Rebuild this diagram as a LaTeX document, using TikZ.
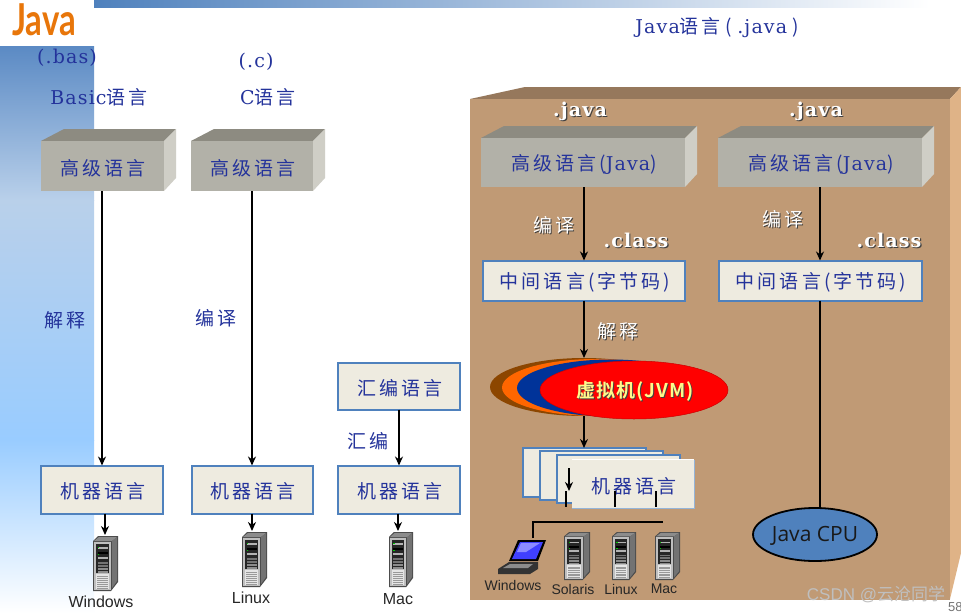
\documentclass[tikz,border=0pt]{standalone}
\usepackage{fontspec}
\usetikzlibrary{arrows.meta,shapes.geometric}
\setmainfont{Liberation Serif}
\newfontfamily\cjk[LetterSpace=16]{Noto Sans CJK SC}
\newfontfamily\cjkplain{Noto Sans CJK SC}
\newfontfamily\cjkb[LetterSpace=6]{Noto Sans CJK SC Bold}
\newfontfamily\ltn[LetterSpace=6]{DejaVu Serif}
\newfontfamily\ltnb[LetterSpace=6]{DejaVu Serif Bold}
\newfontfamily\sns{Liberation Sans}
\newfontfamily\lato{Lato}
\newfontfamily\osans{Open Sans}
\definecolor{txtblue}{HTML}{24339B}
\definecolor{linkblue}{HTML}{4F81BD}
\definecolor{cardfill}{HTML}{EEEBE0}
\definecolor{grfront}{HTML}{B2B1A8}
\definecolor{grtop}{HTML}{8D8B81}
\definecolor{grside}{HTML}{CFCEC6}
\definecolor{bxfront}{HTML}{C09A75}
\definecolor{bxtop}{HTML}{96785C}
\definecolor{bxside}{HTML}{DFB387}
\definecolor{sb1}{HTML}{5B8AC4}
\definecolor{sb2}{HTML}{B9D0EA}
\definecolor{sb3}{HTML}{99CCFF}
\definecolor{jorange}{HTML}{E8760A}
\newcommand\shadowed[2]{\rlap{\kern1.2pt\raisebox{-1.2pt}{\color{black!75}#2}}{\color{#1}#2}}
\newcommand\dn[1]{\raisebox{-2pt}[\height][\depth]{\kern2pt #1}}
\newcommand\serverIcon[4]{%
\begin{scope}[shift={(#1,#2)},xscale=#3/25,yscale=#4/55]
\fill[black!70] (0,5)--(5,0)--(25,0)--(25,46)--(18,55)--(0,55)--cycle;
\fill[black!45] (1,5)--(6,1)--(24,1)--(19,5)--cycle;
\fill[black!55] (19,5)--(24,1)--(24,45)--(19,52)--cycle;
\fill[black!25] (1,6) rectangle (18,54);
\fill[black!85] (3,8) rectangle (16,37);
\foreach \yy/\cc in {11/black!30,16/black,21/black!30,26/black!55,29/black!55,32/black!45,35/black!45}
  \fill[\cc] (4.5,\yy) rectangle (14.5,\yy+1.8);
\fill[green!80!black] (4.5,11) rectangle (6,12);
\fill[green!80!black] (4.5,18) rectangle (6,19);
\fill[black!10] (3,38) rectangle (16,53);
\foreach \yy in {40,42,...,52}
  \draw[black!40,line width=.5pt] (4,\yy) -- (15,\yy);
\end{scope}}
\tikzset{
  x=1pt,y=-1pt,
  lbl/.style={inner sep=0pt,outer sep=0pt,font=\fontsize{19}{19}\selectfont\cjk,text=txtblue},
  gbox/.style={inner sep=0pt,outer sep=0pt,fill=grfront,font=\fontsize{19}{19}\selectfont\cjk,text=txtblue,anchor=center},
  cardbox/.style={inner sep=0pt,outer sep=0pt,fill=cardfill,draw=linkblue,line width=2pt,font=\fontsize{19}{19}\selectfont\cjk,text=txtblue},
  conn/.style={line width=1.8pt,black,-{Stealth[length=9pt,width=8pt]}},
  plainconn/.style={line width=1.8pt,black},
  oslbl/.style={inner sep=0pt,outer sep=0pt,font=\fontsize{16}{16}\selectfont\sns,text=black!85},
  oslblb/.style={inner sep=0pt,outer sep=0pt,font=\fontsize{14}{14}\selectfont\sns,text=black!85},
  wlbl/.style={inner sep=0pt,outer sep=0pt,font=\fontsize{19}{19}\selectfont\ltnb},
}
\begin{document}
\begin{tikzpicture}
\useasboundingbox (0,0) rectangle (961,613);
\fill[white] (0,0) rectangle (961,613);
% sidebar
\shade[top color=sb1,bottom color=sb2] (0,46) rectangle (94,200);
\shade[top color=sb2,bottom color=sb3] (0,200) rectangle (94,440);
\shade[top color=sb3,bottom color=white] (0,440) rectangle (94,613);
\shade[left color=linkblue,right color=white] (94,0) rectangle (930,7);
\node[inner sep=0pt,outer sep=0pt,text=jorange,xscale=.75,font=\fontsize{44}{44}\selectfont\bfseries\lato] (logo) at (44,20) {Java};
% big box
\fill[bxtop] (470,99)--(525,87)--(961,87)--(950,99)--cycle;
\fill[bxside] (950,99)--(961,87)--(961,553)--(950,599)--cycle;
\fill[bxfront] (470,99) rectangle (950,600);
% titles
\node[lbl] (t1) at (717,28) {\ltn Java\cjk 语言\kern5pt(\kern5pt\ltn .java\cjk\kern5pt )};
\node[lbl] (t2) at (67,58) {\ltn(.bas)};
\node[lbl] (t3) at (99,97) {\ltn Basic\cjk 语言};
\node[lbl] (t4) at (256,62) {\ltn(.c)};
\node[lbl] (t5) at (268,97) {\ltn C\cjk 语言};
% 3D boxes
\newcommand\topside[5]{%
\fill[grtop] (#1,#3)--(#1+23,#3-12)--(#2+12,#3-12)--(#2,#3)--cycle;
\fill[grside] (#2,#3)--(#2+12,#3-12)--(#2+12,#4-13)--(#2,#4)--cycle;}
\topside{41}{164}{141}{191}{}
\topside{191}{313}{141}{191}{}
\topside{481}{685}{138}{187}{}
\topside{718}{922}{138}{187}{}
\node[gbox,minimum width=123pt,minimum height=50pt] (hl1) at (102,166) {\dn{高级语言}};
\node[gbox,minimum width=122pt,minimum height=50pt] (hl2) at (252,166) {\dn{高级语言}};
\node[gbox,minimum width=204pt,minimum height=49pt] (hl3) at (583,162.5) {\dn{高级语言(\ltn Java\cjk )}};
\node[gbox,minimum width=204pt,minimum height=49pt] (hl4) at (820,162.5) {\dn{高级语言(\ltn Java\cjk )}};
% machine boxes
\node[cardbox,minimum width=122pt,minimum height=48pt] (m1) at (102,489.5) {\dn{机器语言}};
\node[cardbox,minimum width=121pt,minimum height=48pt] (m2) at (252,489.5) {\dn{机器语言}};
\node[cardbox,minimum width=122pt,minimum height=48pt] (m3) at (399,489.5) {\dn{机器语言}};
\node[cardbox,minimum width=122pt,minimum height=47pt] (asm) at (399,386) {\dn{汇编语言}};
\node[cardbox,minimum width=202pt,minimum height=40pt] (mid1) at (584,280.5) {\dn{中间语言(字节码)}};
\node[cardbox,minimum width=203pt,minimum height=40pt] (mid2) at (820,280.5) {\dn{中间语言(字节码)}};
% servers
\serverIcon{93}{536}{25}{55}
\serverIcon{242}{532}{25}{55}
\serverIcon{389}{532}{24}{55}
\serverIcon{564}{532}{26}{48}
\serverIcon{612}{532}{24}{48}
\serverIcon{655}{532}{25}{48}
\coordinate (s1) at (105,535);
\coordinate (s2) at (252,531);
\coordinate (s3) at (398,531);
\draw[conn] (hl1.south) -- (m1.north);
\draw[conn] (hl2.south) -- (m2.north);
\draw[conn] (asm.south) -- (m3.north);
\draw[conn] (m1.south -| s1) -- (s1);
\draw[conn] (m2.south) -- (s2);
\draw[conn] (m3.south -| s3) -- (s3);
\draw[conn] (mid1.north |- hl3.south) -- (mid1.north);
\draw[conn] (hl4.south) -- (mid2.north);
% side labels
\node[lbl] (l1) at (65,320) {解释};
\node[lbl] (l2) at (216,318) {编译};
\node[lbl] (l3) at (368,441) {汇编};
% stacked cards
\draw[fill=cardfill,draw=linkblue,line width=2pt] (522.5,448) rectangle (646,497);
\draw[fill=cardfill,draw=linkblue,line width=2pt] (540,451) rectangle (663,500);
\draw[fill=cardfill,draw=linkblue,line width=2pt] (557,455) rectangle (680,503);
\node[inner sep=0pt,outer sep=0pt,fill=cardfill,minimum width=122pt,minimum height=49pt,font=\fontsize{19}{19}\selectfont\cjk,text=txtblue] (mstack) at (633,484) {\dn{机器语言}};
\draw[linkblue!60,line width=.7pt] (mstack.south west) -- (mstack.south east) -- (mstack.north east);
\draw[white,line width=.7pt] (mstack.north west) -- (mstack.north east);
% jvm
\fill[fill=orange!55!black] (584,387) ellipse [x radius=94,y radius=29];
\fill[fill={rgb,255:red,255;green,102;blue,0}] (596,387.5) ellipse [x radius=94,y radius=28.5];
\fill[fill={rgb,255:red,0;green,51;blue,153}] (611,388) ellipse [x radius=94,y radius=28.5];
\node[ellipse,fill=red,draw=red!80!black,line width=.5pt,inner sep=0pt,outer sep=0pt,minimum width=188pt,minimum height=58pt,font=\fontsize{19}{19}\selectfont\cjkb] (jvm) at (634,390) {\shadowed{yellow!45}{\dn{虚拟机(JVM)}}};
\coordinate (jvmin) at (584,358);
\coordinate (jvmout) at (584,416);
\coordinate (stacktop) at (584,448);
\draw[conn] (mid1.south) -- (jvmin);
\draw[conn] (jvmout) -- (stacktop);
% stack arrows
\coordinate (a1) at (569,468);
\coordinate (a2) at (569,491);
\draw[conn] (a1) -- (a2);
\coordinate (b0) at (533,538);
\coordinate (b1) at (533,522);
\coordinate (b2) at (663,522);
\draw[plainconn] (b0) -- (b1) -- (b2);
\foreach \xx in {566,615,656} \draw[plainconn] (\xx,491) -- (\xx,507);
% laptop
\fill[black] (509,561)--(518,540)--(546,540)--(538,561)--cycle;
\fill[blue!75!white] (512,559)--(520,542)--(543,542)--(536,559)--cycle;
\fill[white!55!blue] (521,543)--(540,543)--(526,552)--(517,552)--cycle;
\fill[black!80] (498,569)--(509,562)--(538,562)--(538,569)--(530,574)--(498,574)--cycle;
\fill[black!45] (503,568)--(510,564)--(533,564)--(528,568)--cycle;
% java cpu
\node[ellipse,fill=linkblue,draw=black,line width=1.8pt,inner sep=0pt,outer sep=0pt,minimum width=124pt,minimum height=53pt,font=\fontsize{21}{21}\selectfont\osans,text=black!90] (cpu) at (815,534.5) {\raisebox{-1.5pt}[\height][\depth]{Java CPU}};
\draw[plainconn] (mid2.south) -- (cpu.north -| mid2.south);
% white labels
\node[wlbl] (w1) at (580,112) {\shadowed{white}{.java}};
\node[wlbl] (w2) at (816,112) {\shadowed{white}{.java}};
\node[wlbl] (w3) at (636,241) {\shadowed{white}{.class}};
\node[wlbl] (w4) at (889,241) {\shadowed{white}{.class}};
\node[lbl] (w5) at (554,226) {\shadowed{white}{编译}};
\node[lbl] (w6) at (783,220) {\shadowed{white}{编译}};
\node[lbl] (w7) at (618,332) {\shadowed{white}{解释}};
% os labels
\node[oslbl] (o1) at (101,602) {Windows};
\node[oslbl] (o2) at (251,598) {Linux};
\node[oslbl] (o3) at (398,599) {Mac};
\node[oslblb] (o4) at (513,585) {Windows};
\node[oslblb] (o5) at (573,589) {Solaris};
\node[oslblb] (o6) at (621,589) {Linux};
\node[oslblb] (o7) at (664,589) {Mac};
% watermark & page no
\node[inner sep=0pt,text=black!25,font=\fontsize{17}{17}\selectfont\sns] (wm) at (876,594) {CSDN @\cjkplain 云沧同学};
\node[inner sep=0pt,anchor=west,text=black!55,font=\fontsize{13}{13}\selectfont\sns] (pg) at (948,607) {58};
\end{tikzpicture}
\end{document}
